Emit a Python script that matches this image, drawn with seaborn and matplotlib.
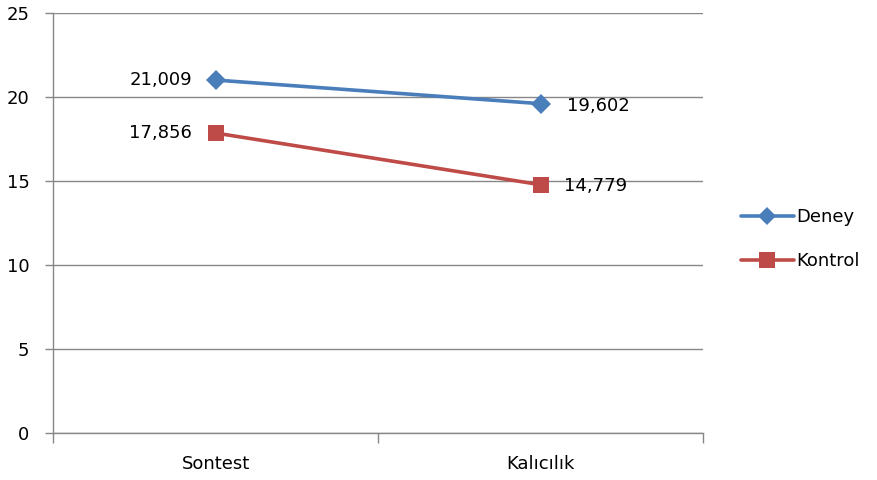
import matplotlib
matplotlib.use("Agg")
import matplotlib.pyplot as plt
import seaborn as sns
import pandas as pd
from matplotlib.ticker import FixedLocator
from matplotlib.lines import Line2D

categories = ["Sontest", "Kalıcılık"]
deney = [21.009, 19.602]
kontrol = [17.856, 14.779]
deney_labels = ["21,009", "19,602"]
kontrol_labels = ["17,856", "14,779"]
yticks = [0, 5, 10, 15, 20, 25]

sns.set_theme(style="white")
plt.rcParams['font.family'] = ['DejaVu Sans']
plt.rcParams['text.color'] = 'black'
plt.rcParams['xtick.color'] = 'black'
plt.rcParams['ytick.color'] = 'black'

df = pd.DataFrame({
    "pos": list(range(len(categories))) * 2,
    "value": deney + kontrol,
    "group": ["Deney"] * len(deney) + ["Kontrol"] * len(kontrol),
})

blue = "#4A7EBB"
red = "#BE4B48"
grid_c = "#878787"
fs = 13

fig = plt.figure(figsize=(8.77, 4.8), dpi=100)
ax = fig.add_axes([53/877, 47/480, 650/877, 420/480])

sns.lineplot(data=df, x="pos", y="value", hue="group", style="group",
             palette={"Deney": blue, "Kontrol": red},
             markers={"Deney": "D", "Kontrol": "s"}, dashes=False,
             linewidth=2.6, markersize=10, markeredgewidth=0, ax=ax, legend=False)
for line in ax.get_lines():
    if line.get_marker() == "s":
        line.set_markersize(12)
    elif line.get_marker() == "D":
        line.set_markersize(10)

ax.set_xlim(-0.5, len(categories) - 0.5)
ax.set_ylim(0, 25)
ax.set_yticks(yticks)
ax.set_yticklabels([str(v) for v in yticks])
ax.set_xticks(range(len(categories)))
ax.set_xticklabels(categories)
ax.xaxis.set_minor_locator(FixedLocator([i - 0.5 for i in range(len(categories) + 1)]))
ax.tick_params(axis="x", which="major", length=0, pad=16, labelsize=fs, labelcolor="black")
ax.tick_params(axis="x", which="minor", length=7, width=1, color=grid_c, bottom=True)
ax.tick_params(axis="y", length=6, width=1, color=grid_c, pad=11, labelsize=fs, left=True, labelcolor="black")
ax.set_xlabel("")
ax.set_ylabel("")
ax.grid(axis="y", color=grid_c, linewidth=1)
ax.set_axisbelow(True)
for s in ["top", "right"]:
    ax.spines[s].set_visible(False)
for s in ["left", "bottom"]:
    ax.spines[s].set_color(grid_c)
    ax.spines[s].set_linewidth(1)

for i, (v, lab) in enumerate(zip(deney, deney_labels)):
    if i == 0:
        ax.annotate(lab, (i, v), xytext=(-17, 0), textcoords="offset points", ha="right", va="center", fontsize=fs, color="black")
    else:
        ax.annotate(lab, (i, v), xytext=(19, -2), textcoords="offset points", ha="left", va="center", fontsize=fs, color="black")
for i, (v, lab) in enumerate(zip(kontrol, kontrol_labels)):
    if i == 0:
        ax.annotate(lab, (i, v), xytext=(-17, 0), textcoords="offset points", ha="right", va="center", fontsize=fs, color="black")
    else:
        ax.annotate(lab, (i, v), xytext=(17, -1), textcoords="offset points", ha="left", va="center", fontsize=fs, color="black")

handles = [Line2D([], [], color=blue, lw=2.6, marker="D", markersize=9, markeredgewidth=0),
           Line2D([], [], color=red, lw=2.6, marker="s", markersize=11, markeredgewidth=0)]
leg = fig.legend(handles, ["Deney", "Kontrol"], loc="center left", bbox_to_anchor=(725/877, 1 - 239/480),
                 frameon=False, fontsize=fs, handlelength=2.9, handletextpad=0.15, labelspacing=1.45)
for t in leg.get_texts():
    t.set_color("black")

fig.savefig("out.png", dpi=100)
